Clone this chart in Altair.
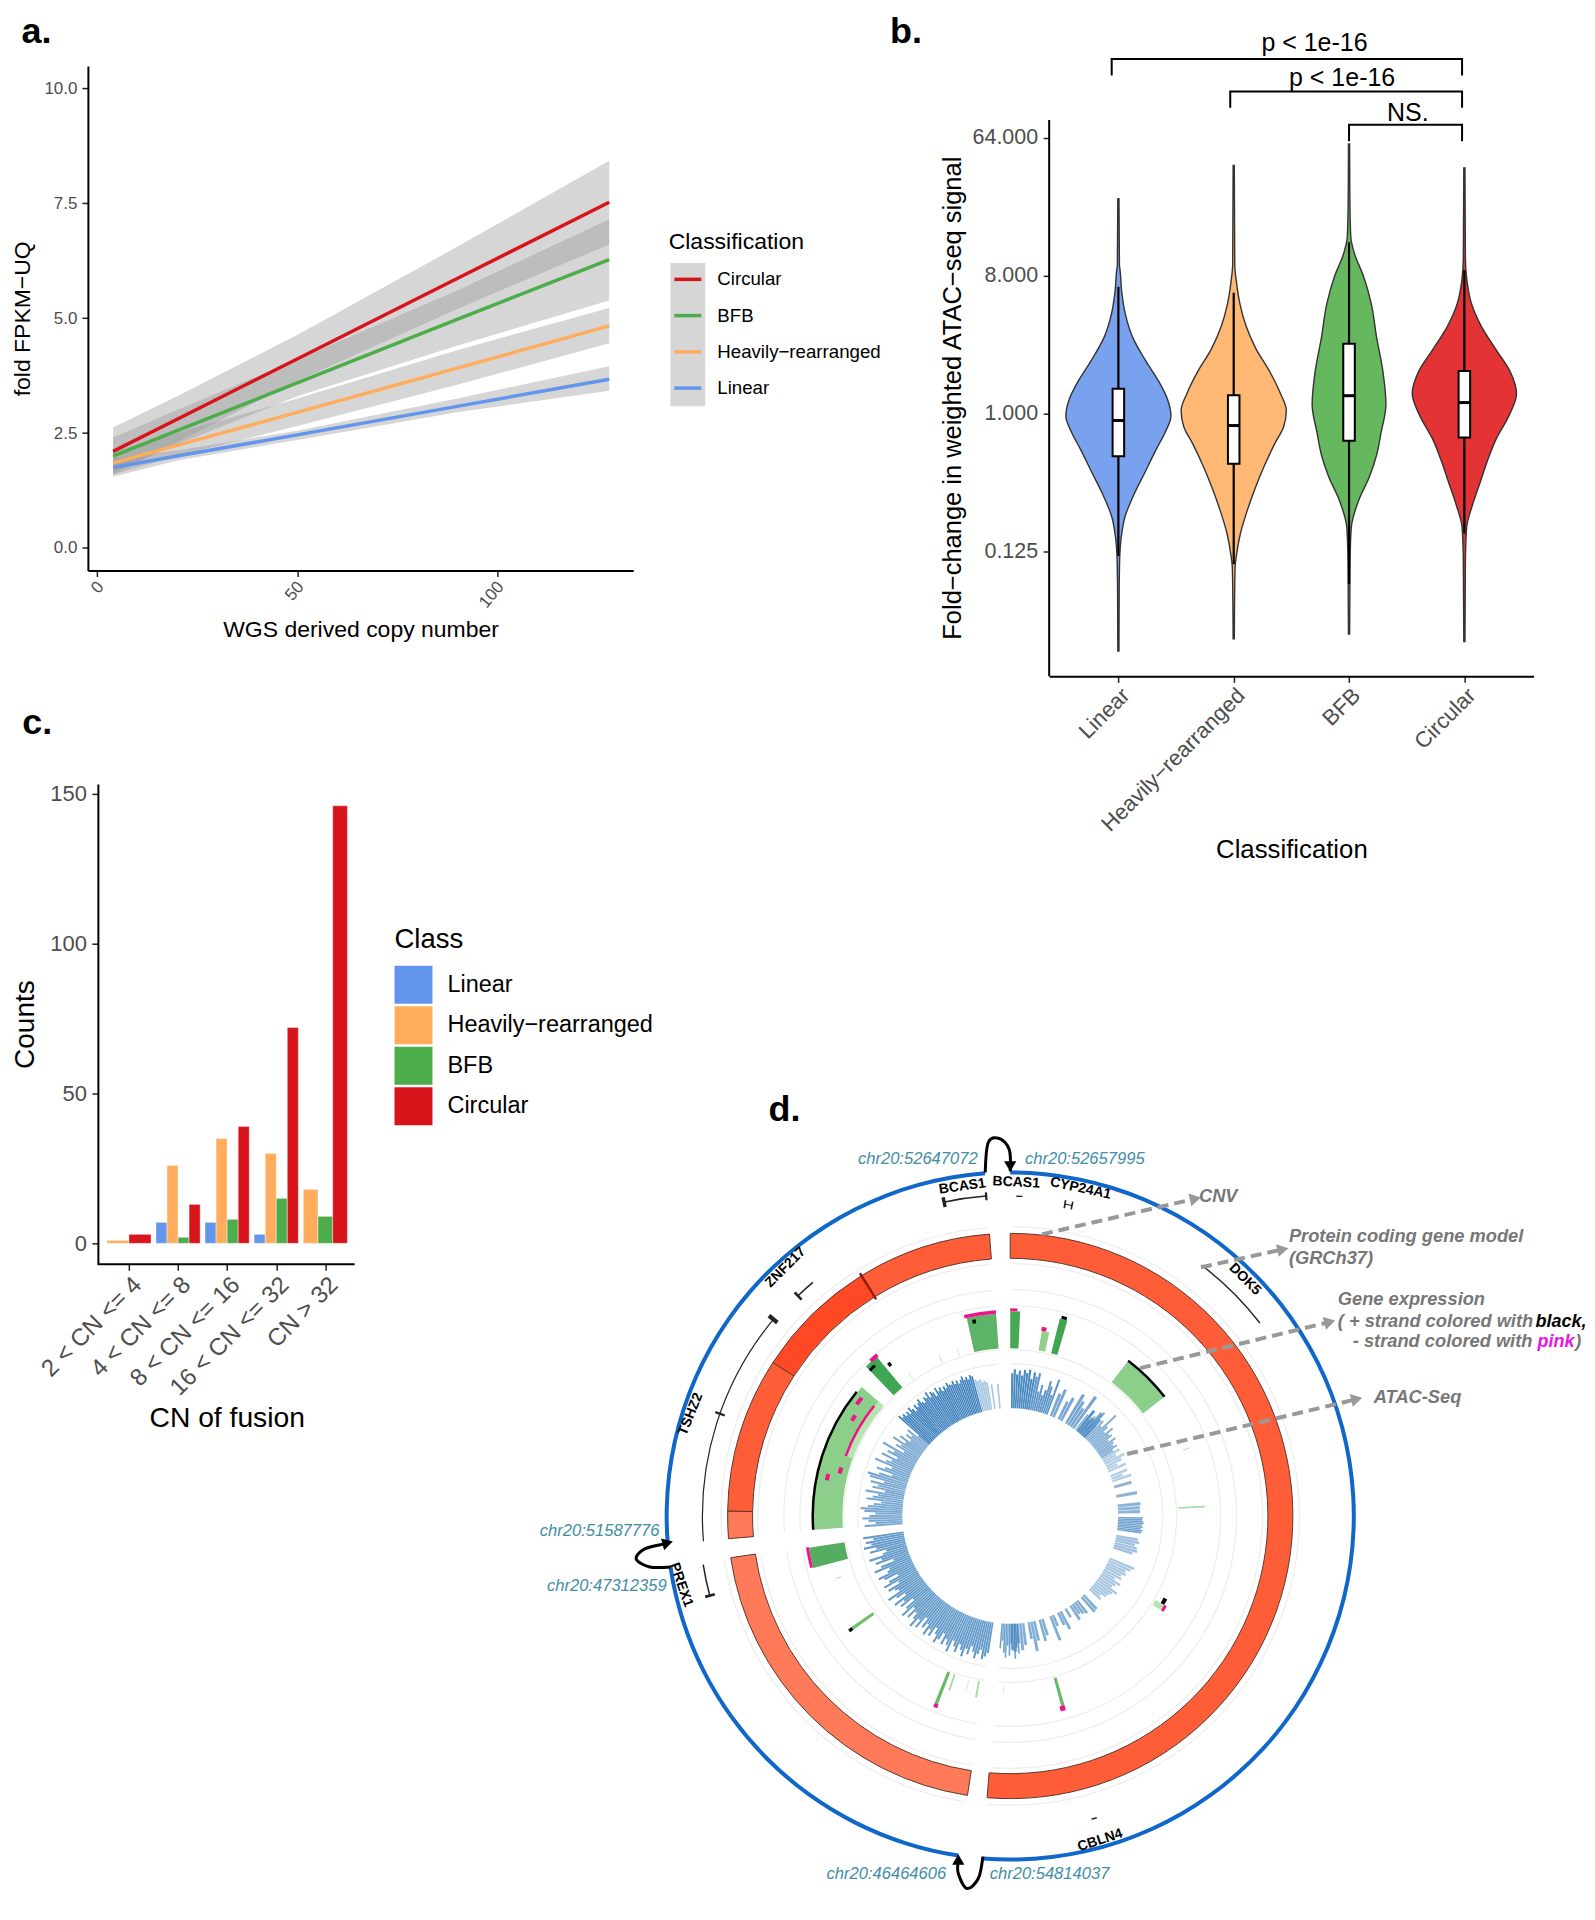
import altair as alt
import pandas as pd

FONT = "Liberation Sans"
GREY = "#4d4d4d"
CLS = ["Linear", "Heavily−rearranged", "BFB", "Circular"]
COL = {"Linear": "#6495ed", "Heavily−rearranged": "#ffad5c", "BFB": "#4dad4a", "Circular": "#d7141a"}

# ---------- panel a values
a_x = [4, 20, 50, 90, 128]
a_line = {"Circular": [2.1, 2.8, 4.11, 5.86, 7.52], "BFB": [2.0, 2.55, 3.59, 4.97, 6.27],
          "Heavily−rearranged": [1.85, 2.23, 2.95, 3.91, 4.83], "Linear": [1.75, 2.0, 2.46, 3.08, 3.67]}
a_top = {"Circular": [2.62, 3.3, 4.63, 6.55, 8.42], "BFB": [2.4, 3.0, 4.1, 5.6, 7.15],
         "Heavily−rearranged": [2.1, 2.5, 3.25, 4.3, 5.22], "Linear": [1.95, 2.12, 2.55, 3.25, 3.95]}
a_bot = {"Circular": [1.6, 2.3, 3.63, 5.2, 6.6], "BFB": [1.65, 2.25, 3.3, 4.4, 5.38],
         "Heavily−rearranged": [1.6, 2.0, 2.65, 3.55, 4.45], "Linear": [1.55, 1.9, 2.35, 2.95, 3.42]}

# ---------- panel b values (log2 fold-change, half-width of the violin)
v_y = {
 "Linear": [4.68, 3.24, 3.12, 2.63, 2.15, 1.66, 1.17, .68, .32, -.05, -.41, -.78, -1.27, -1.76, -2.24, -2.73, -3.10, -3.83, -5.17],
 "Heavily−rearranged": [5.4, 3.24, 2.88, 2.39, 1.9, 1.41, .93, .44, .07, -.29, -.66, -1.15, -1.63, -2.12, -2.61, -3.1, -3.34, -4.2, -4.9],
 "BFB": [5.87, 4.71, 3.85, 3.49, 3.0, 2.39, 1.66, .93, .2, -.41, -.9, -1.39, -1.88, -2.49, -3.22, -4.0, -4.8],
 "Circular": [5.35, 3.37, 2.88, 2.39, 1.9, 1.41, .93, .44, -.05, -.54, -1.02, -1.51, -2.0, -2.49, -3.22, -4.1, -4.96],
}
v_w = {
 "Linear": [.005, .009, .015, .03, .062, .124, .232, .355, .425, .456, .405, .328, .232, .135, .058, .023, .012, .007, .005],
 "Heavily−rearranged": [.005, .009, .023, .054, .108, .193, .309, .405, .456, .432, .355, .263, .185, .116, .058, .023, .012, .007, .005],
 "BFB": [.005, .007, .015, .046, .124, .193, .239, .293, .32, .278, .239, .174, .085, .019, .009, .007, .005],
 "Circular": [.005, .009, .023, .062, .147, .27, .394, .452, .386, .278, .201, .135, .069, .019, .009, .007, .005],
}
v_fill = {"Linear": "#78a2ee", "Heavily−rearranged": "#ffb975", "BFB": "#66b85f", "Circular": "#e33335"}
box_q3 = [.54, .40, 1.52, .93]
box_med = [-.15, -.26, .39, .24]
box_q1 = [-.93, -1.09, -.59, -.52]
wh_hi = [2.76, 2.63, 3.73, 3.12]
wh_lo = [-3.1, -3.28, -3.71, -2.61]

# ---------- panel c values
cn_labels = ["2 < CN <= 4", "4 < CN <= 8", "8 < CN <= 16", "16 < CN <= 32", "CN > 32"]
cn_counts = {"Linear": [0, 7, 7, 3, 0], "Heavily−rearranged": [1, 26, 35, 30, 18],
             "BFB": [0, 2, 8, 15, 9], "Circular": [3, 13, 39, 72, 146]}

# ---------- panel d values: (start angle, end angle, inner radius, outer radius, colour)
ring_blue = [(0, 184.6, 342, 346), (188.7, 261.5, 342, 346), (265.5, 355.8, 342, 346)]
cnv = [(0, 184.7, 258, 283, "#ff5c38"), (188.7, 261.5, 258, 283, "#ff7a59"), (265.4, 271, 258, 283, "#ff7a59"),
       (271, 302.9, 258, 283, "#ff5c38"), (302.9, 328.2, 258, 283, "#ff4824"), (328.2, 355.8, 258, 283, "#ff5c38")]
faint_r = [289, 252, 226, 210, 166, 152]
faint_seg = [(0.5, 184.4), (189, 261.2), (265.8, 355.5)]
expr = [(266, 311, 168, 197, "#8ccf8a"), (290, 311, 168, 175, "#b8e4b2"), (316, 320, 168, 208, "#3fa653"),
        (255.2, 261, 168, 204, "#55ad60"), (347.6, 356, 168, 203, "#5db368"), (0, 2.8, 168, 205, "#46a855"),
        (9.7, 12, 168, 188, "#90d08a"), (14.1, 16.3, 168, 204, "#3fa64f"), (37.2, 52.3, 168, 194, "#8ccf8a"),
        (87, 87.5, 168, 195, "#a5dca5"), (69, 69.4, 185, 192, "#c5e8c0"), (120, 122, 168, 178, "#b8e4b2"),
        (234, 235, 168, 194, "#6cc06c"), (250, 250.5, 180, 185, "#c5e8c0"), (201, 202, 168, 202, "#66bb66"),
        (199, 199.6, 168, 185, "#a5dca5"), (190.4, 191, 168, 185, "#a5dca5"), (194, 194.3, 170, 180, "#cdeccd"),
        (182, 182.3, 170, 178, "#cdeccd"), (164, 165, 168, 197, "#66bb66"), (336, 336.4, 168, 176, "#cdeccd"),
        (342.3, 342.6, 168, 176, "#cdeccd"), (324.5, 324.8, 168, 176, "#cdeccd")]
pink = [(347, 356, 203, 206.5), (0, 2, 205, 208), (9.5, 11, 188, 192), (255.4, 261.2, 204, 207), (318, 320.5, 207, 211),
        (290, 309, 174, 176.5), (306, 308.5, 188, 192), (301, 303, 183, 187), (284, 286, 174, 178), (281, 283, 185, 189),
        (200.8, 202, 202, 206), (164, 165.5, 197, 202), (120, 122, 178, 181)]
black = [(266, 309, 196.5, 199), (37.2, 52.3, 194, 196.5), (14.5, 16, 204, 207), (234, 235, 194, 198),
         (316, 318, 201, 204), (349, 350, 196, 200), (118, 120, 174, 178), (321, 322, 192, 196)]
models = [(348, 355.7, 320.5, 322), (1.1, 2.2, 319.5, 321), (9.9, 11.2, 316.5, 317.5), (37.3, 52.3, 315.2, 316.6),
          (316, 319.8, 305.5, 307), (265.3, 309.7, 307.6, 308.8), (255.2, 261, 310.5, 312), (164, 165, 313.5, 315)]
model_ticks = [(347.8, 348.4, 316, 326), (355.5, 355.9, 317, 325), (9.8, 10.1, 313, 321), (11.1, 11.4, 313, 321),
               (309.3, 310.1, 303, 314), (289.2, 289.6, 303, 313), (315.8, 316.3, 301, 311), (254.9, 255.4, 306, 316)]
# ATAC track: (first angle, angle step, opacity, outer radii; 0 = no bar)
atac = [
 (0.4, 1, .95, [143, 147, 142, 146, 141, 147, 144, 148, 139, 146]),
 (10.4, 1, .85, [142, 146, 128, 135, 125, 131, 141, 136, 128, 145]),
 (20, 1.5, .7, [0, 132, 138, 0, 128, 134, 0, 142, 136, 130, 147, 0, 135, 128, 138, 132]),
 (37, 1, .65, [128, 134, 125, 131, 128, 140, 125, 133, 128, 146, 132, 126, 135, 128, 130, 124, 131, 127, 125, 128, 122]),
 (58, 1.4, .4, [128, 122, 130, 125, 119, 127, 0, 126, 120, 128, 0]),
 (72, 1.7, .6, [0, 126, 0, 0, 129, 0, 0, 131, 130, 130, 0]),
 (90.5, .8, .75, [133, 132, 133, 134, 132, 133, 131, 133, 132]),
 (100, 1.3, .5, [130, 132, 128, 131, 132, 128]),
 (110, 1.3, .45, [0, 0, 135, 132, 128, 130, 126, 128, 122, 130, 126, 124, 132, 128, 126, 125, 120, 123, 0, 0]),
 (135, 1.5, .65, [0, 127, 128, 0, 124, 122, 120, 125, 0, 118, 0, 128, 122, 0, 120, 134, 0, 0, 125, 130, 0, 128, 138, 125, 0, 130, 135, 128, 136, 134]),
 (176, .8, .75, [138, 132, 143, 135, 128, 140, 130, 142, 137, 125, 133]),
 (188.9, 1, .8, [139, 143, 146, 137, 142, 147, 141, 136, 145, 140, 149, 143, 138, 147, 142, 137, 150, 144, 139, 146, 135, 143, 148, 140, 134, 145, 139, 147, 136, 142, 132, 146, 138, 149, 141, 135, 144, 133, 147, 139, 128, 142, 136, 146, 131, 140, 148, 134, 137, 143, 130, 145, 138, 127, 141, 146, 135, 132, 147, 139, 125, 143, 136, 148, 133, 129, 145, 138, 150, 142, 147, 139, 149]),
 (265.6, 1, .7, [146, 135, 142, 148, 141, 135, 146, 150, 143, 137, 130, 145, 139, 134, 147, 128, 141, 136, 144, 131, 146, 149, 138, 125, 142, 134, 128, 147, 136, 131, 143, 127, 139, 133, 147, 124, 135, 130, 141, 128, 136, 125, 132, 127, 134, 122]),
 (311.5, .8, 1, [150, 146, 148, 144, 147, 143, 149, 145, 141, 147, 143, 146, 149, 144, 142, 147, 145, 150, 143, 148, 146, 141, 149, 144, 147, 142, 146, 143, 148, 145, 144, 147, 143, 146, 142, 145, 148, 144, 146, 143, 147, 145]),
 (345.2, .9, .45, [141, 139, 140, 137, 138, 136, 0, 133, 0, 0, 133]),
]

# ---------- helpers
def txt(panel_x, panel_y, rows, hide=False, **mk):
    df = pd.DataFrame(rows, columns=["x", "y", "t"])
    if mk.get("angle", 0) < 0:
        mk["angle"] = 360 + mk["angle"]
    mk.setdefault("align", "left")
    mk.setdefault("baseline", "middle")
    ex = dict(axis=None) if hide else {}
    return alt.Chart(df).mark_text(**mk).encode(
        x=alt.X("x:Q", scale=panel_x, **ex), y=alt.Y("y:Q", scale=panel_y, **ex), text="t:N")

AX = dict(grid=False, domainColor="black", domainWidth=2, tickColor="#222", tickWidth=1.5, tickSize=6,
          labelColor=GREY, titleColor="black", labelOverlap=False, labelBound=False, labelFlush=False,
          titleFontWeight="normal", labelLimit=400)
AXND = {**AX, "domain": False}

# ---------- panel a
xa = alt.Scale(domain=[-2.3, 134], nice=False, zero=False)
ya = alt.Scale(domain=[-0.49, 10.48], nice=False, zero=False)
rows = []
for c in ["Circular", "BFB", "Heavily−rearranged", "Linear"]:
    for i, x in enumerate(a_x):
        rows.append(dict(x=x, line=a_line[c][i], top=a_top[c][i], bot=a_bot[c][i], Classification=c))
dfa = pd.DataFrame(rows)
rib = alt.Chart(dfa).mark_area(color="#999999", opacity=.4).encode(
    x=alt.X("x:Q", scale=xa, title="WGS derived copy number",
            axis=alt.Axis(values=[0, 50, 100], labelAngle=-50, labelAlign="right", labelBaseline="top", labelOffset=-3,
                          labelFontSize=17, titleFontSize=23, titlePadding=8, **AX)),
    y=alt.Y("top:Q", scale=ya, title="fold FPKM−UQ",
            axis=alt.Axis(values=[0, 2.5, 5, 7.5, 10], format=".1f", labelFontSize=17, labelPadding=5, titleFontSize=23, titlePadding=9, **AX)),
    y2="bot:Q", detail="Classification:N")
keybg = alt.Chart(pd.DataFrame({"x": [143.3], "x2": [152.0], "y": [6.2], "y2": [3.08]})).mark_rect(color="#d6d6d6").encode(
    x=alt.X("x:Q", scale=xa), x2="x2:Q", y=alt.Y("y:Q", scale=ya), y2="y2:Q")
lin = alt.Chart(dfa).mark_line(strokeWidth=3.5).encode(
    x=alt.X("x:Q", scale=xa), y=alt.Y("line:Q", scale=ya),
    stroke=alt.Stroke("Classification:N",
        scale=alt.Scale(domain=["Circular", "BFB", "Heavily−rearranged", "Linear"],
                        range=[COL["Circular"], COL["BFB"], COL["Heavily−rearranged"], COL["Linear"]]),
        legend=alt.Legend(orient="none", legendX=581.5, legendY=165.6, symbolType="stroke", symbolSize=729, symbolStrokeWidth=3.5,
                          symbolOffset=3.7, rowPadding=10.3, labelFontSize=18.7, titleFontSize=23, titleFontWeight="normal",
                          labelOffset=14, titlePadding=9.4, labelColor="black", labelLimit=400)))
anchor = alt.Chart(pd.DataFrame({"x": [-22.0], "y": [11.705]})).mark_point(size=1, opacity=0).encode(
    x=alt.X("x:Q", scale=xa), y=alt.Y("y:Q", scale=ya))
pa = alt.layer(rib, keybg, lin, anchor, txt(xa, ya, [(-18.9, 10.98, "a.")], fontSize=36, fontWeight="bold", baseline="alphabetic")
    ).properties(width=546, height=505)

# ---------- panel b: the view reaches up to the top of panel a, the axis line stops at the data range
xb = alt.Scale(domain=[-0.6, 3.6], nice=False, zero=False)
yb = alt.Scale(domain=[-5.72, 7.565], nice=False, zero=False)
rows = []
for i, c in enumerate(CLS):
    for y, w in zip(v_y[c], v_w[c]):
        rows.append(dict(c=c, y=y, x1=i - w, x2=i + w, f=v_fill[c]))
dfb = pd.DataFrame(rows)
lab_expr = "['Linear','Heavily−rearranged','BFB','Circular'][datum.value]"
vio = alt.Chart(dfb).mark_area(orient="horizontal", stroke="#333333", strokeWidth=1.4, interpolate="monotone").encode(
    y=alt.Y("y:Q", scale=yb, title="Fold−change in weighted ATAC−seq signal",
            axis=alt.Axis(values=[-3, 0, 3, 6], labelExpr="format(pow(2,datum.value),'.3f')", labelFontSize=21.5, labelPadding=5.5, titleFontSize=25.5,
                          titlePadding=6.5, titleY=332, **AXND)),
    x=alt.X("x1:Q", scale=xb, title="Classification",
            axis=alt.Axis(values=[0, 1, 2, 3], labelExpr=lab_expr, labelAngle=-45, labelAlign="right", labelBaseline="top",
                          labelFontSize=22, titleFontSize=25.8, titlePadding=2, **AX)),
    x2="x2:Q", detail="c:N", fill=alt.Fill("f:N", scale=None))
b_axis = alt.Chart(pd.DataFrame({"x": [-0.6], "y": [-5.72], "y2": [6.39]})).mark_rule(color="black", strokeWidth=2).encode(
    x=alt.X("x:Q", scale=xb), y=alt.Y("y:Q", scale=yb), y2="y2:Q")
dfbox = pd.DataFrame(dict(x=range(4), q1=box_q1, q3=box_q3, med=box_med, lo=wh_lo, hi=wh_hi))
dfbox["l"] = dfbox.x - .05
dfbox["r"] = dfbox.x + .05
whisk = alt.Chart(dfbox).mark_rule(color="black", strokeWidth=2.2).encode(
    x=alt.X("x:Q", scale=xb), y=alt.Y("lo:Q", scale=yb), y2="hi:Q")
box = alt.Chart(dfbox).mark_rect(fill="white", stroke="black", strokeWidth=2).encode(
    x=alt.X("l:Q", scale=xb), x2="r:Q", y=alt.Y("q1:Q", scale=yb), y2="q3:Q")
med = alt.Chart(dfbox).mark_rule(color="black", strokeWidth=3).encode(
    x=alt.X("l:Q", scale=xb), x2="r:Q", y=alt.Y("med:Q", scale=yb))
brk = []
for k, (x0, top, dn) in enumerate([(-.058, 7.72, 7.36), (.97, 7.01, 6.66), (2.0, 6.29, 5.93)]):
    for o, (px, py) in enumerate([(x0, dn), (x0, top), (2.98, top), (2.98, dn)]):
        brk.append(dict(k=k, o=o, x=px, y=py))
brackets = alt.Chart(pd.DataFrame(brk)).mark_line(color="black", strokeWidth=2).encode(
    x=alt.X("x:Q", scale=xb), y=alt.Y("y:Q", scale=yb), detail="k:N", order="o:Q")
pb = alt.layer(vio, b_axis, whisk, box, med, brackets,
    txt(xb, yb, [(1.70, 8.07, "p < 1e-16"), (1.94, 7.30, "p < 1e-16"), (2.51, 6.55, "NS.")], fontSize=25, align="center"),
    txt(xb, yb, [(-1.98, 8.07, "b.")], fontSize=36, fontWeight="bold", baseline="alphabetic")
    ).properties(width=485, height=611)

# ---------- panel c: the view starts left of the y axis so that it shares its column with panel a
xc = alt.Scale(domain=[-0.836, 4.595], nice=False, zero=False)
yc = alt.Scale(domain=[-7, 153.3], nice=False, zero=False)
rows = []
for g in range(len(cn_labels)):
    present = [c for c in CLS if cn_counts[c][g] > 0]
    w = .9 / len(present)
    for j, c in enumerate(present):
        rows.append(dict(Class=c, v=cn_counts[c][g], zero=0, x1=g - .45 + j * w, x2=g - .45 + (j + 1) * w))
barc = alt.Chart(pd.DataFrame(rows)).mark_rect(stroke="white", strokeWidth=.4).encode(
    x=alt.X("x1:Q", scale=xc, title="CN of fusion",
            axis=alt.Axis(values=[0, 1, 2, 3, 4], labelExpr="['2 < CN <= 4','4 < CN <= 8','8 < CN <= 16','16 < CN <= 32','CN > 32'][datum.value]",
                          labelAngle=-45, labelAlign="right", labelBaseline="top", labelFontSize=24, titleFontSize=28.3, titlePadding=5,
                          titleX=139, **AXND)),
    x2="x2:Q",
    y=alt.Y("v:Q", scale=yc, title="Counts",
            axis=alt.Axis(values=[0, 50, 100, 150], labelFontSize=22, labelPadding=5.5, titleFontSize=28, titlePadding=10, offset=-10, **AX)),
    y2="zero:Q",
    color=alt.Color("Class:N", scale=alt.Scale(domain=CLS, range=[COL[c] for c in CLS]),
        legend=alt.Legend(orient="none", legendX=307, legendY=142, symbolType="square", symbolSize=1444, symbolStrokeWidth=0,
                          symbolOpacity=1, rowPadding=2.6, labelFontSize=23.5, titleFontSize=27.5, titleFontWeight="normal",
                          labelOffset=15, titlePadding=12.5, labelColor="black", labelLimit=400)))
c_axis = alt.Chart(pd.DataFrame({"x": [-0.633], "x2": [4.595], "y": [-7]})).mark_rule(color="black", strokeWidth=2).encode(
    x=alt.X("x:Q", scale=xc), x2="x2:Q", y=alt.Y("y:Q", scale=yc))
pc = alt.layer(barc, c_axis, txt(xc, yc, [(-2.175, 169.9, "c.")], fontSize=36, fontWeight="bold", baseline="alphabetic")
    ).properties(width=267, height=481)

# ---------- panel d: 1 data unit = 1 px, origin at the centre of the circle
xd = alt.Scale(domain=[39, 345], nice=False, zero=False)
yd = alt.Scale(domain=[-345, 733], nice=False, zero=False)
TH = alt.Scale(domain=[0, 360])
RA = alt.Scale(type="linear", domain=[0, 345], range=[0, 345])

def arcs(df, **mk):
    df = df.assign(cx=0, cy=0)
    enc = dict(x=alt.X("cx:Q", scale=xd, axis=None), y=alt.Y("cy:Q", scale=yd, axis=None),
               theta=alt.Theta("t1:Q", scale=TH), theta2="t2:Q",
               radius=alt.Radius("r2:Q", scale=RA), radius2="r1:Q")
    if "col" in df:
        enc["fill"] = alt.Fill("col:N", scale=None)
    if "op" in df:
        enc["fillOpacity"] = alt.FillOpacity("op:Q", scale=None)
    return alt.Chart(df).mark_arc(**mk).encode(**enc)

COLS4 = ["t1", "t2", "r1", "r2"]
df_faint = pd.DataFrame([(a, b, r, r + 1.3) for r in faint_r for a, b in faint_seg], columns=COLS4)
atac_rows = []
for start, step, op, vals in atac:
    for i, r in enumerate(vals):
        if r > 0:
            t = start + i * step
            atac_rows.append((t, t + step * .85, 108, r, op))
df_atac = pd.DataFrame(atac_rows, columns=COLS4 + ["op"])

def path(points, width=3):
    df = pd.DataFrame([dict(o=i, x=p[0], y=p[1]) for i, p in enumerate(points)])
    return alt.Chart(df).mark_line(color="black", strokeWidth=width, interpolate="cardinal").encode(
        x=alt.X("x:Q", scale=xd, axis=None), y=alt.Y("y:Q", scale=yd, axis=None), order="o:Q")

def head(x, y, shape, angle=0, size=130, color="black"):
    df = pd.DataFrame({"x": [x], "y": [y]})
    return alt.Chart(df).mark_point(shape=shape, filled=True, size=size, color=color, opacity=1, angle=(angle % 360)).encode(
        x=alt.X("x:Q", scale=xd, axis=None), y=alt.Y("y:Q", scale=yd, axis=None))

def dash(x0, y0, x1, y1, ang):
    df = pd.DataFrame({"x": [x0], "y": [y0], "x2": [x1], "y2": [y1]})
    l = alt.Chart(df).mark_rule(color="#999999", strokeWidth=4, strokeDash=[11, 6]).encode(
        x=alt.X("x:Q", scale=xd, axis=None), y=alt.Y("y:Q", scale=yd, axis=None), x2="x2:Q", y2="y2:Q")
    return [l, head(x1, y1, "triangle-right", ang, 170, "#999999")]

BLUE_T = "#3f8ea5"
GT = "#777777"
layers = [
    arcs(df_faint, color="#eeeeee"),
    arcs(pd.DataFrame(ring_blue, columns=COLS4), color="#0f67c9"),
    arcs(pd.DataFrame(cnv, columns=COLS4 + ["col"]), stroke="#5a3a30", strokeWidth=1),
    arcs(pd.DataFrame([(328, 328.5, 255, 286)], columns=COLS4), color="#8c1c10"),
    arcs(pd.DataFrame(expr, columns=COLS4 + ["col"])),
    arcs(pd.DataFrame(pink, columns=COLS4), color="#f0128c"),
    arcs(pd.DataFrame(black, columns=COLS4), color="black"),
    arcs(pd.DataFrame(models + model_ticks, columns=COLS4), color="#222222"),
    arcs(df_atac, color="#3f82bd"),
    path([(-25, 344), (-22, 374), (-11, 378), (-1, 367), (0, 345)]),
    head(0, 350, "triangle-down", 0, 150),
    path([(-340, -51), (-361, -51), (-374.5, -43), (-366, -33), (-346, -28)]),
    head(-343, -27, "triangle-right", -15, 150),
    path([(-27.4, -341), (-32, -363), (-43.4, -373), (-52, -358), (-52, -346)]),
    head(-52, -344, "triangle-up", 0, 150),
]
for seg in [(31.7, 282, 185.4, 317.7, -13), (191, 249, 273, 267, -12), (130, 148, 320, 194.3, -15), (117, 62, 347, 117, -13.5)]:
    layers += dash(*seg)
for t, x, y, ang in [("BCAS1", -48, 330, -8), ("BCAS1", 6, 334, 3), ("CYP24A1", 70.5, 328, 12), ("DOK5", 235, 237, 45),
                     ("ZNF217", -225, 249, -45), ("TSHZ2", -320, 102, -68), ("PREX1", -329.4, -69, 71), ("CBLN4", 90, -324.7, -18)]:
    layers.append(txt(xd, yd, [(x, y, t)], hide=True, fontSize=14, fontWeight="bold", align="center", angle=ang))
TX = dict(hide=True, fontStyle="italic")
layers += [
    txt(xd, yd, [(-152.5, 357, "chr20:52647072"), (14.7, 357, "chr20:52657995"), (-184, -358, "chr20:46464606"), (-20.6, -358, "chr20:54814037")],
        fontSize=16.6, color=BLUE_T, **TX),
    txt(xd, yd, [(-351.2, -15, "chr20:51587776"), (-344, -70, "chr20:47312359")], fontSize=16.6, color=BLUE_T, align="right", **TX),
    txt(xd, yd, [(189, 319, "CNV"), (279, 279, "Protein coding gene model"), (279, 257, "(GRCh37)"), (328, 216, "Gene expression"),
                 (328, 194.3, "( + strand colored with"), (343, 174, "- strand colored with"), (364, 118, "ATAC-Seq")],
        fontSize=18.3, fontWeight="bold", color=GT, **TX),
    txt(xd, yd, [(526, 194.3, "black,")], fontSize=18, fontWeight="bold", color="black", **TX),
    txt(xd, yd, [(528, 174, "pink")], fontSize=18, fontWeight="bold", color="#e815e8", **TX),
    txt(xd, yd, [(565.7, 174, ")")], fontSize=18, fontWeight="bold", color=GT, **TX),
    txt(xd, yd, [(-242, 395, "d.")], hide=True, fontSize=36, fontWeight="bold", baseline="alphabetic"),
]
pd_ = alt.layer(*layers).properties(width=306, height=1078)

# ---------- layout
chart = alt.concat(pa, pb, pc, pd_, columns=2, spacing={"row": 107.7, "column": 416.5}, bounds="flush").resolve_scale(
    color="independent", stroke="independent", fill="independent", x="independent", y="independent"
).properties(padding=0).configure(font=FONT).configure_view(stroke=None)

chart.save("out.html", embed_options={"renderer": "svg", "actions": False})
